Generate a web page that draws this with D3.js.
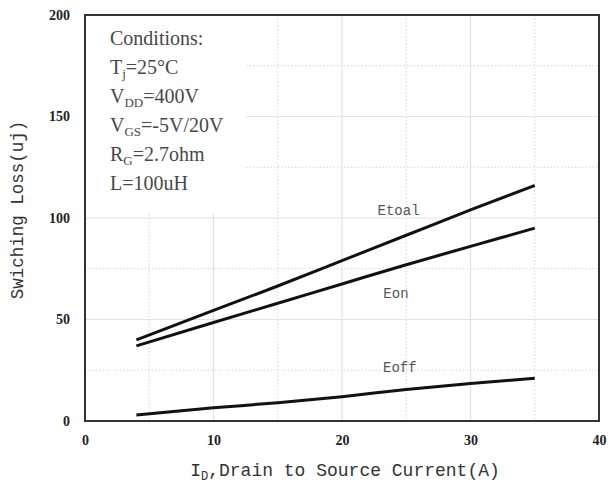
<!DOCTYPE html>
<html>
<head>
<meta charset="utf-8">
<script src="https://cdn.jsdelivr.net/npm/d3@7"></script>
<style>
  html, body { margin: 0; padding: 0; background: #fff; }
  svg { display: block; }
</style>
</head>
<body>
<svg id="chart" width="613" height="486"></svg>
<script>
// Switching loss vs drain current

const CURRENT = [4, 10, 15, 20, 25, 30, 35];
const ETOAL   = [40, 54.5, 66.5, 79, 91.5, 104, 116];
const EON     = [37, 48.5, 58, 67.5, 77, 86, 95];
const EOFF    = [3, 6.5, 9, 12, 15.5, 18.5, 21];

const X_TICKS = [0, 10, 20, 30, 40];
const Y_TICKS = [0, 50, 100, 150, 200];
const X_MINOR = [5, 15, 25, 35];
const Y_MINOR = [25, 75, 125, 175];

const SERIES = [
  { name: "Etoal", values: ETOAL },
  { name: "Eon",   values: EON },
  { name: "Eoff",  values: EOFF },
];
// label positions in data units
const LABEL_POS = { Etoal: [24.4, 101.5], Eon: [24.2, 60.5], Eoff: [24.5, 24] };

const CONDITIONS = [
  [["Conditions:", ""]],
  [["T", ""], ["j", "sub"], ["=25°C", ""]],
  [["V", ""], ["DD", "sub"], ["=400V", ""]],
  [["V", ""], ["GS", "sub"], ["=-5V/20V", ""]],
  [["R", ""], ["G", "sub"], ["=2.7ohm", ""]],
  [["L=100uH", ""]],
];

const W = 613, H = 486;
const margin = { top: 15, right: 14, bottom: 65, left: 85 };
const iW = W - margin.left - margin.right;
const iH = H - margin.top - margin.bottom;

const svg = d3.select("#chart");
const g = svg.append("g").attr("transform", `translate(${margin.left},${margin.top})`);

const xs = d3.scaleLinear().domain([0, 40]).range([0, iW]);
const ys = d3.scaleLinear().domain([0, 200]).range([iH, 0]);

// ── Grid ──────────────────────────────────────────────────────
const grid = g.append("g");
X_TICKS.slice(1, -1).forEach(t => grid.append("line")
  .attr("x1", xs(t)).attr("x2", xs(t)).attr("y1", 0).attr("y2", iH)
  .attr("stroke", "#e2e2e2").attr("stroke-width", 1.2));
X_MINOR.forEach(t => grid.append("line")
  .attr("x1", xs(t)).attr("x2", xs(t)).attr("y1", 0).attr("y2", iH)
  .attr("stroke", "#d6d6d6").attr("stroke-dasharray", "1.5 2"));
Y_TICKS.slice(1, -1).forEach(t => grid.append("line")
  .attr("x1", 0).attr("x2", iW).attr("y1", ys(t)).attr("y2", ys(t))
  .attr("stroke", "#e2e2e2").attr("stroke-width", 1.2));
Y_MINOR.forEach(t => grid.append("line")
  .attr("x1", 0).attr("x2", iW).attr("y1", ys(t)).attr("y2", ys(t))
  .attr("stroke", "#d6d6d6").attr("stroke-dasharray", "1.5 2"));

// white panel behind the conditions text hides the grid there
g.append("rect")
  .attr("x", 0).attr("y", 0)
  .attr("width", xs(12.5)).attr("height", ys(102))
  .attr("fill", "#fff");

// ── Axes ──────────────────────────────────────────────────────
const xAxis = g.append("g").attr("transform", `translate(0,${iH})`)
  .call(d3.axisBottom(xs).tickValues(X_TICKS).tickSize(0).tickPadding(14));
const yAxis = g.append("g")
  .call(d3.axisLeft(ys).tickValues(Y_TICKS).tickSize(0).tickPadding(15));
[xAxis, yAxis].forEach(a => {
  a.attr("font-family", "Liberation Serif, serif").attr("font-size", 14);
  a.select(".domain").remove();
  a.selectAll("text")
    .style("font-family", "'Liberation Serif', serif")
    .style("font-weight", "700").style("font-size", "14px").attr("fill", "#222");
});

g.append("rect")
  .attr("x", 0).attr("y", 0).attr("width", iW).attr("height", iH)
  .attr("fill", "none").attr("stroke", "#333").attr("stroke-width", 2);

// ── Curves ────────────────────────────────────────────────────
const line = d3.line().curve(d3.curveMonotoneX);
SERIES.forEach(s => {
  g.append("path")
    .attr("d", line(CURRENT.map((c, i) => [xs(c), ys(s.values[i])])))
    .attr("fill", "none").attr("stroke", "#111").attr("stroke-width", 3);
  const p = LABEL_POS[s.name];
  g.append("text")
    .attr("x", xs(p[0])).attr("y", ys(p[1]))
    .attr("text-anchor", "middle")
    .attr("font-family", "Liberation Mono, monospace")
    .attr("font-size", "14px").attr("fill", "#555")
    .text(s.name);
});

// ── Conditions box ────────────────────────────────────────────
CONDITIONS.forEach((parts, i) => {
  const t = g.append("text")
    .attr("x", 25).attr("y", 30 + i * 29)
    .attr("font-family", "Liberation Serif, serif")
    .attr("font-size", "20px").attr("fill", "#484848");
  parts.forEach(([txt, kind], j) => {
    const prev = j > 0 ? parts[j - 1][1] : "";
    const ts = t.append("tspan").text(txt);
    if (kind === "sub") ts.attr("dy", 4).attr("font-size", "13px");
    else if (prev === "sub") ts.attr("dy", -4);
  });
});

// ── Axis titles ───────────────────────────────────────────────
const xt = svg.append("text")
  .attr("x", 345).attr("y", 476)
  .attr("text-anchor", "middle")
  .attr("font-family", "Liberation Mono, monospace")
  .attr("font-size", "18px").attr("fill", "#333");
xt.append("tspan").text("I");
xt.append("tspan").text("D").attr("dy", 4).attr("font-size", "12px");
xt.append("tspan").text(",Drain to Source Current(A)").attr("dy", -4);

svg.append("text")
  .attr("transform", `translate(23,210) rotate(-90)`)
  .attr("text-anchor", "middle")
  .attr("font-family", "Liberation Mono, monospace")
  .attr("font-size", "17.5px").attr("fill", "#333")
  .text("Swiching Loss(uj)");
</script>
</body>
</html>
